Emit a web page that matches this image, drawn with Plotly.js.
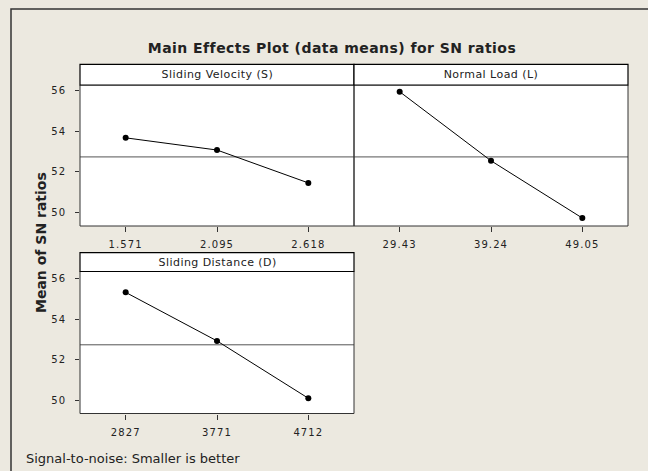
<!DOCTYPE html>
<html><head><meta charset="utf-8">
<script src="https://cdn.plot.ly/plotly-3.0.1.min.js"></script>
<style>
html,body{margin:0;padding:0;background:#ECE9E0;}
#chart{width:648px;height:471px;}
.xtick text,.x2tick text,.x3tick text{letter-spacing:1.1px;}
.ytick text,.y2tick text,.y3tick text{letter-spacing:1px;}
.gtitle{letter-spacing:0.45px;}
.annotation[data-index="0"] text,.annotation[data-index="1"] text,.annotation[data-index="2"] text{letter-spacing:0.45px;}
</style></head><body><div id="chart"></div>
<script>
// ---- data ----
const velocityLevels = ['1.571', '2.095', '2.618'];
const velocitySN = [53.68, 53.08, 51.46];
const loadLevels = ['29.43', '39.24', '49.05'];
const loadSN = [55.95, 52.55, 49.73];
const distanceLevels = ['2827', '3771', '4712'];
const distanceSN = [55.31, 52.93, 50.12];
const panelTitles = ['Sliding Velocity (S)', 'Normal Load (L)', 'Sliding Distance (D)'];
const grandMean = 52.74;
const yTicks = [50, 52, 54, 56];
const chartTitle = 'Main Effects Plot (data means) for SN ratios';
const yTitle = 'Mean of SN ratios';
const footnote = 'Signal-to-noise: Smaller is better';

// ---- layout helpers (pixel -> paper) ----
const W = 648, H = 471;
const px = v => v / W;
const py = v => 1 - v / H;

const FONT = 'DejaVu Sans, Verdana, sans-serif';
const TXT = '#222';

function mkTrace(x, y, xa, ya) {
  return {
    x: x, y: y, xaxis: xa, yaxis: ya, type: 'scatter', mode: 'lines+markers',
    line: {color: '#000', width: 1},
    marker: {color: '#000', size: 6, symbol: 'circle'},
    hoverinfo: 'x+y', showlegend: false
  };
}

const data = [
  mkTrace(velocityLevels, velocitySN, 'x', 'y'),
  mkTrace(loadLevels, loadSN, 'x2', 'y2'),
  mkTrace(distanceLevels, distanceSN, 'x3', 'y3')
];

function xAx(dom, anchor) {
  return {
    domain: dom, anchor: anchor, type: 'category', range: [-0.5, 2.5],
    showgrid: false, zeroline: false, showline: false,
    ticks: 'outside', ticklen: 5, tickwidth: 1, tickcolor: '#333',
    ticklabelstandoff: 4,
    tickfont: {family: FONT, size: 10, color: TXT}, fixedrange: true
  };
}
function yAx(dom, anchor, rng, labels) {
  return {
    domain: dom, anchor: anchor, range: rng,
    showgrid: false, zeroline: false, showline: false,
    tickmode: 'array', tickvals: yTicks,
    ticks: labels ? 'outside' : '', ticklen: 4, tickwidth: 1, tickcolor: '#333',
    showticklabels: labels, ticklabelstandoff: 7,
    tickfont: {family: FONT, size: 10, color: TXT}, fixedrange: true
  };
}

const colL = [px(80), px(354)];
const colR = [px(354), px(628)];
const row1 = [py(226), py(85)];
const row2 = [py(413.5), py(271.5)];
const head1 = [py(85), py(64.3)];
const head2 = [py(271.5), py(252.7)];

const shapes = [];
// outer frame
shapes.push({type: 'rect', xref: 'paper', yref: 'paper', x0: px(11), x1: px(660), y0: py(480), y1: py(9),
  line: {color: '#333', width: 1.5}, fillcolor: 'rgba(0,0,0,0)', layer: 'below'});
// panel frames and strip headers
[[colL, row1, head1], [colR, row1, head1], [colL, row2, head2]].forEach(p => {
  shapes.push({type: 'rect', xref: 'paper', yref: 'paper', x0: p[0][0], x1: p[0][1], y0: p[1][0], y1: p[1][1],
    line: {color: '#333', width: 1}, fillcolor: 'rgba(0,0,0,0)', layer: 'above'});
  shapes.push({type: 'rect', xref: 'paper', yref: 'paper', x0: p[0][0], x1: p[0][1], y0: p[2][0], y1: p[2][1],
    line: {color: '#000', width: 1.2}, fillcolor: '#fff', layer: 'above'});
});
// grand mean reference lines
[['x', 'y'], ['x2', 'y2'], ['x3', 'y3']].forEach(a => {
  shapes.push({type: 'line', xref: a[0] + ' domain', yref: a[1], x0: 0, x1: 1, y0: grandMean, y1: grandMean,
    line: {color: '#555', width: 1}, layer: 'below'});
});

const annotations = [
  {text: panelTitles[0], x: (colL[0] + colL[1]) / 2, y: (head1[0] + head1[1]) / 2},
  {text: panelTitles[1], x: (colR[0] + colR[1]) / 2, y: (head1[0] + head1[1]) / 2},
  {text: panelTitles[2], x: (colL[0] + colL[1]) / 2, y: (head2[0] + head2[1]) / 2}
].map(a => Object.assign(a, {xref: 'paper', yref: 'paper', showarrow: false, xanchor: 'center', yanchor: 'middle',
  font: {family: FONT, size: 11, color: TXT}}));
annotations.push({text: '<b>' + yTitle + '</b>', xref: 'paper', yref: 'paper', x: px(41), y: py(243),
  textangle: -90, showarrow: false, xanchor: 'center', yanchor: 'middle', font: {family: FONT, size: 14, color: TXT}});
annotations.push({text: footnote, xref: 'paper', yref: 'paper', x: px(24), y: py(458),
  showarrow: false, xanchor: 'left', yanchor: 'middle', font: {family: FONT, size: 13, color: TXT}});

const layout = {
  width: W, height: H,
  margin: {l: 0, r: 0, t: 0, b: 0},
  paper_bgcolor: '#ECE9E0', plot_bgcolor: '#fff',
  title: {text: '<b>' + chartTitle + '</b>', xref: 'container', yref: 'container', x: px(332), y: py(48.5),
    xanchor: 'center', yanchor: 'middle', font: {family: FONT, size: 14, color: TXT}},
  xaxis: xAx(colL, 'y'), yaxis: yAx(row1, 'x', [49.339, 56.281], true),
  xaxis2: xAx(colR, 'y2'), yaxis2: yAx(row1, 'x2', [49.339, 56.281], false),
  xaxis3: xAx(colL, 'y3'), yaxis3: yAx(row2, 'x3', [49.373, 56.333], true),
  shapes: shapes, annotations: annotations, showlegend: false
};

Plotly.newPlot('chart', data, layout, {displayModeBar: false, staticPlot: true});
</script></body></html>
